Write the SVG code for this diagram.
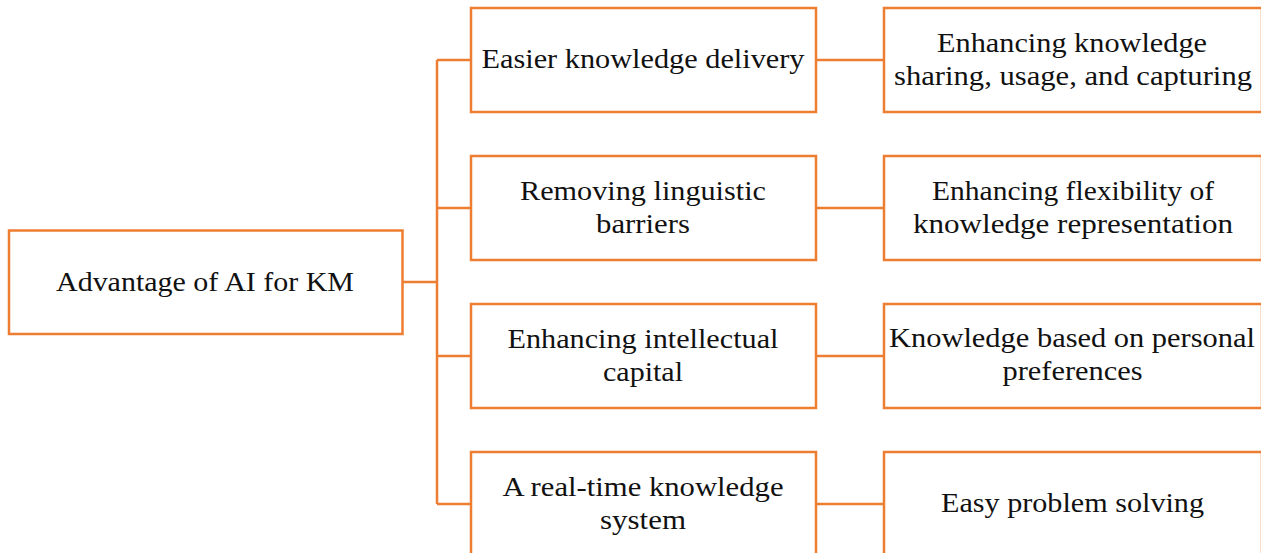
<svg xmlns="http://www.w3.org/2000/svg" width="1261" height="553" viewBox="0 0 1261 553">
<style>
.box{fill:#fff;stroke:#ED7D31;stroke-width:2.5}
.con{fill:none;stroke:#ED7D31;stroke-width:2.5}
text{font-family:"Liberation Serif","DejaVu Serif",serif;font-size:27px;fill:#111;text-anchor:middle}
</style>
<rect width="1261" height="553" fill="#fff"/>
<g id="connectors">
<path class="con" d="M403,282 H437 M437,60 V504 M437,60 H471 M437,208 H471 M437,356 H471 M437,504 H471 M816,60 H884 M816,208 H884 M816,356 H884 M816,504 H884"/>
</g>
<g id="root">
<rect class="box" x="9" y="230.5" width="393.5" height="103.5"/>
<text x="205" y="290.5" textLength="298" lengthAdjust="spacingAndGlyphs">Advantage of AI for KM</text>
</g>
<g id="m1">
<rect class="box" x="471" y="8" width="345" height="104"/>
<text x="643" y="68" textLength="323" lengthAdjust="spacingAndGlyphs">Easier knowledge delivery</text>
</g>
<g id="m2">
<rect class="box" x="471" y="156" width="345" height="104"/>
<text x="643" y="200" textLength="246" lengthAdjust="spacingAndGlyphs">Removing linguistic</text>
<text x="643" y="232.5" textLength="94" lengthAdjust="spacingAndGlyphs">barriers</text>
</g>
<g id="m3">
<rect class="box" x="471" y="304" width="345" height="104"/>
<text x="643" y="348" textLength="271" lengthAdjust="spacingAndGlyphs">Enhancing intellectual</text>
<text x="643" y="380.5" textLength="80" lengthAdjust="spacingAndGlyphs">capital</text>
</g>
<g id="m4">
<rect class="box" x="471" y="452" width="345" height="104"/>
<text x="643" y="496" textLength="281" lengthAdjust="spacingAndGlyphs">A real-time knowledge</text>
<text x="643" y="528.5" textLength="86" lengthAdjust="spacingAndGlyphs">system</text>
</g>
<g id="r1">
<rect class="box" x="884" y="8" width="378" height="104"/>
<text x="1072" y="52" textLength="270" lengthAdjust="spacingAndGlyphs">Enhancing knowledge</text>
<text x="1073" y="84.5" textLength="358" lengthAdjust="spacingAndGlyphs">sharing, usage, and capturing</text>
</g>
<g id="r2">
<rect class="box" x="884" y="156" width="378" height="104"/>
<text x="1073" y="200" textLength="282" lengthAdjust="spacingAndGlyphs">Enhancing flexibility of</text>
<text x="1073" y="232.5" textLength="320" lengthAdjust="spacingAndGlyphs">knowledge representation</text>
</g>
<g id="r3">
<rect class="box" x="884" y="304" width="378" height="104"/>
<text x="1072" y="347" textLength="366" lengthAdjust="spacingAndGlyphs">Knowledge based on personal</text>
<text x="1072.5" y="379.5" textLength="140" lengthAdjust="spacingAndGlyphs">preferences</text>
</g>
<g id="r4">
<rect class="box" x="884" y="452" width="378" height="104"/>
<text x="1072.5" y="512" textLength="263" lengthAdjust="spacingAndGlyphs">Easy problem solving</text>
</g>
</svg>
